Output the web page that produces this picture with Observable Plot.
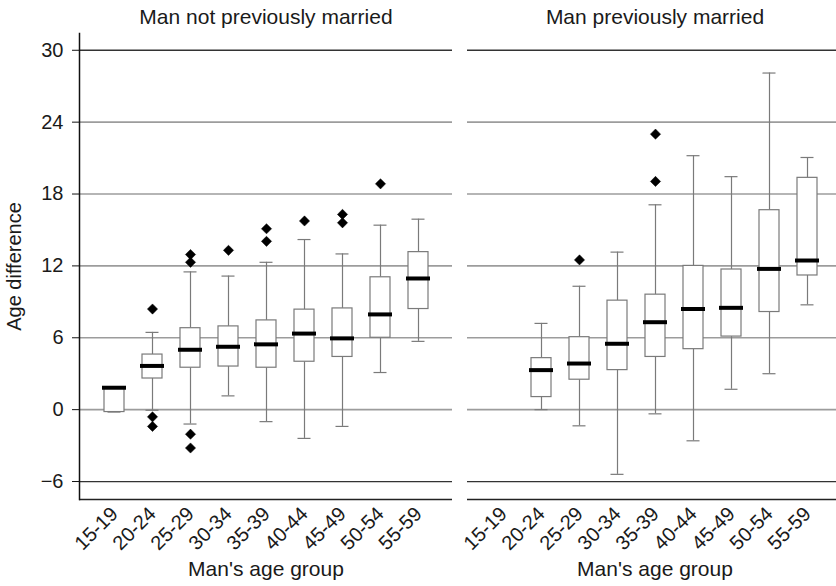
<!DOCTYPE html>
<html><head><meta charset="utf-8">
<script src="https://cdn.jsdelivr.net/npm/d3@7"></script>
<script src="https://cdn.jsdelivr.net/npm/@observablehq/plot@0.6"></script>
<style>
html,body{margin:0;padding:0;background:#fff;overflow:hidden;}
#chart{display:flex;flex-direction:row;align-items:flex-start;width:836px;overflow:hidden;}
#chart svg{display:block;flex:none;font-family:"Liberation Sans",Arial,sans-serif;}
</style></head><body><div id="chart"></div>
<script>
const panels = ["Man not previously married", "Man previously married"];
const ageGroups = ["15-19","20-24","25-29","30-34","35-39","40-44","45-49","50-54","55-59"];
const yTicks = [-6, 0, 6, 12, 18, 24, 30];
const gridMid = [0, 6, 12, 18, 24];
const gridEdge = [-6, 30];
const yDomain = [-7.5, 31.4];
const xTitle = "Man's age group";
const yTitle = "Age difference";

// Man not previously married
const nmGroups = ageGroups;
const nmLow  = [-0.2, -0.05, -1.2, 1.15, -1.0, -2.4, -1.4, 3.1, 5.7];
const nmQ1   = [-0.2, 2.6, 3.5, 3.6, 3.5, 4.0, 4.4, 6.0, 8.4];
const nmMed  = [1.83, 3.65, 5.0, 5.25, 5.45, 6.35, 5.95, 7.95, 10.95];
const nmQ3   = [1.85, 4.6, 6.8, 6.95, 7.45, 8.35, 8.45, 11.05, 13.15];
const nmHigh = [1.85, 6.45, 11.5, 11.15, 12.3, 14.2, 13.0, 15.4, 15.9];
const nmOutGroup = ["20-24","20-24","20-24","25-29","25-29","25-29","25-29","30-34","35-39","35-39","40-44","45-49","45-49","50-54"];
const nmOutValue = [8.4, -0.6, -1.4, 12.95, 12.3, -2.05, -3.2, 13.3, 15.1, 14.05, 15.75, 16.3, 15.6, 18.85];

// Man previously married
const pmGroups = ["20-24","25-29","30-34","35-39","40-44","45-49","50-54","55-59"];
const pmLow  = [0.0, -1.35, -5.4, -0.35, -2.6, 1.7, 3.0, 8.75];
const pmQ1   = [1.05, 2.5, 3.3, 4.4, 5.05, 6.1, 8.15, 11.2];
const pmMed  = [3.3, 3.85, 5.5, 7.3, 8.4, 8.5, 11.75, 12.45];
const pmQ3   = [4.3, 6.05, 9.1, 9.6, 12.0, 11.7, 16.65, 19.35];
const pmHigh = [7.2, 10.3, 13.15, 17.1, 21.2, 19.45, 28.1, 21.05];
const pmOutGroup = ["25-29","35-39","35-39"];
const pmOutValue = [12.5, 23.0, 19.05];

function boxRows(groups, lo, q1, med, q3, hi) {
  return groups.map((g, i) => ({group: g, lo: lo[i], q1: q1[i], med: med[i], q3: q3[i], hi: hi[i]}));
}
function outRows(groups, values) {
  return groups.map((g, i) => ({group: g, value: values[i]}));
}

const boxStroke = "#7a7a7a";
function panel({title, rows, outs, width, marginLeft, marginRight, showY}) {
  return Plot.plot({
    width, height: 586,
    marginLeft, marginRight, marginTop: 33, marginBottom: 87,
    style: {fontFamily: "'Liberation Sans', Arial, sans-serif", fontSize: "20px", color: "#111", background: "white", overflow: "visible"},
    x: {domain: ageGroups, paddingInner: 0.48, paddingOuter: 0.585, label: null, axis: null},
    y: {domain: yDomain, label: null, axis: null},
    marks: [
      Plot.ruleY(gridMid, {stroke: "#9c9c9c", strokeWidth: 1.6}),
      Plot.ruleY(gridEdge, {stroke: "#333", strokeWidth: 1.3}),
      Plot.ruleY([yDomain[0]], {stroke: "#222", strokeWidth: 1.5}),
      showY ? Plot.frame({anchor: "left", stroke: "#111", strokeWidth: 1.5}) : null,
      Plot.ruleX(rows, {x: "group", y1: "q3", y2: "hi", stroke: boxStroke, strokeWidth: 1.2}),
      Plot.ruleX(rows, {x: "group", y1: "lo", y2: "q1", stroke: boxStroke, strokeWidth: 1.2}),
      Plot.tickY(rows, {x: "group", y: "hi", stroke: boxStroke, strokeWidth: 1.2, insetLeft: 3.5, insetRight: 3.5}),
      Plot.tickY(rows, {x: "group", y: "lo", stroke: boxStroke, strokeWidth: 1.2, insetLeft: 3.5, insetRight: 3.5}),
      Plot.barY(rows, {x: "group", y1: "q1", y2: "q3", fill: "white", stroke: boxStroke, strokeWidth: 1.2}),
      Plot.tickY(rows, {x: "group", y: "med", stroke: "black", strokeWidth: 4, insetLeft: -2, insetRight: -2}),
      Plot.dot(outs, {x: "group", y: "value", symbol: "diamond2", fill: "black", stroke: "black", strokeWidth: 0.5, r: 4.6}),
      showY ? Plot.axisY({ticks: yTicks, tickSize: 7, tickPadding: 9, fontSize: 20, stroke: "#111", fill: "#1a1a1a", label: yTitle, labelArrow: false, labelAnchor: "center", labelOffset: 73}) : null,
      Plot.axisX({tickRotate: -45, tickSize: 0, tickPadding: 11, fontSize: 20, label: null, fill: "#1a1a1a"}),
      Plot.text([title], {text: (d) => d, frameAnchor: "top", lineAnchor: "bottom", dy: -9.5, fontSize: 21, fill: "#1a1a1a"}),
      Plot.text([xTitle], {text: (d) => d, frameAnchor: "bottom", lineAnchor: "bottom", dy: 76, fontSize: 21, fill: "#1a1a1a"})
    ]
  });
}

const root = document.getElementById("chart");
root.appendChild(panel({
  title: panels[0],
  rows: boxRows(nmGroups, nmLow, nmQ1, nmMed, nmQ3, nmHigh),
  outs: outRows(nmOutGroup, nmOutValue),
  width: 458, marginLeft: 79, marginRight: 6, showY: true
}));
root.appendChild(panel({
  title: panels[1],
  rows: boxRows(pmGroups, pmLow, pmQ1, pmMed, pmQ3, pmHigh),
  outs: outRows(pmOutGroup, pmOutValue),
  width: 378, marginLeft: 9, marginRight: -6, showY: false
}));
</script>
</body></html>
